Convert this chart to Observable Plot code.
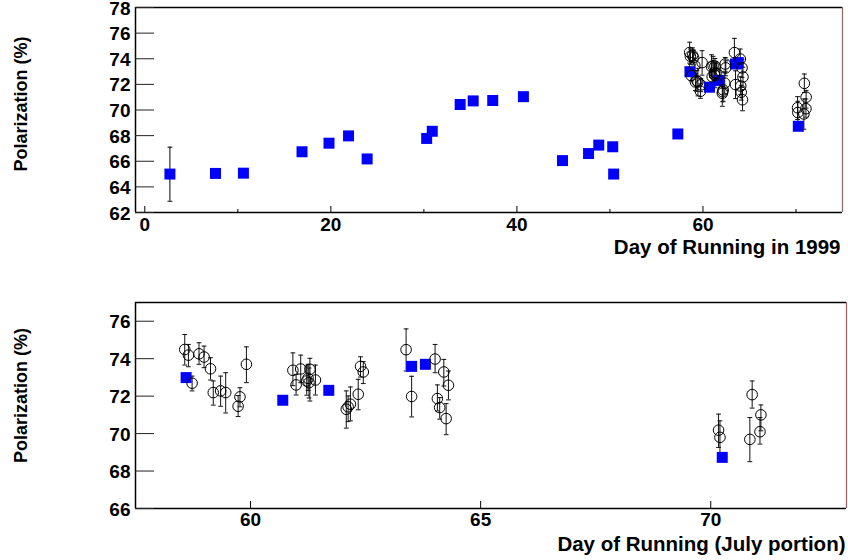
<!DOCTYPE html>
<html><head><meta charset="utf-8">
<script src="https://cdn.jsdelivr.net/npm/d3@7"></script>
<script src="https://cdn.jsdelivr.net/npm/@observablehq/plot@0.6"></script>
<style>
body{margin:0;background:#fff;}
#chart{width:848px;height:560px;position:relative;background:#fff;}
#chart svg{display:block;}
</style></head><body><div id="chart"></div>
<script>
// Blue squares: day of running, polarization (%)
const sqDay = [2.7, 7.6, 10.6, 16.9, 19.8, 21.9, 23.9, 30.3, 30.9, 33.9, 35.3, 37.4, 40.7, 44.9, 47.7, 48.8, 50.3, 50.4, 57.3, 58.6, 60.7, 61.7, 63.5, 63.8, 70.25];
const sqPol = [65.0, 65.05, 65.07, 66.74, 67.41, 67.98, 66.18, 67.78, 68.34, 70.43, 70.71, 70.74, 71.04, 66.05, 66.6, 67.26, 67.13, 65.0, 68.13, 72.99, 71.78, 72.31, 73.59, 73.7, 68.73];
// error bar on the first square
const sqErrDay = [2.7];
const sqErrLo = [62.88];
const sqErrHi = [67.1];
// Open circles (July portion) with error bars
const cDay = [58.57, 58.65, 58.73, 58.88, 58.99, 59.13, 59.19, 59.35, 59.46, 59.77, 59.73, 59.91, 60.92, 60.99, 61.09, 61.22, 61.27, 61.29, 61.25, 61.41, 62.08, 62.12, 62.17, 62.34, 62.39, 62.45, 63.38, 63.50, 64.01, 64.20, 64.30, 64.06, 64.11, 64.25, 70.17, 70.20, 70.90, 71.09, 71.07, 70.85];
const cPol = [74.49, 74.19, 72.69, 74.26, 74.09, 73.46, 72.19, 72.28, 72.19, 71.96, 71.46, 73.70, 73.38, 72.60, 73.45, 72.81, 72.72, 73.43, 72.95, 72.86, 71.30, 71.43, 71.57, 72.10, 73.59, 73.29, 74.48, 71.98, 73.98, 73.29, 72.58, 71.87, 71.39, 70.80, 70.18, 69.80, 72.08, 71.00, 70.10, 69.69];
const cLo  = [73.66, 73.57, 72.28, 73.70, 73.52, 72.86, 71.52, 71.46, 71.10, 71.43, 70.91, 72.72, 72.56, 72.06, 72.72, 72.05, 71.90, 71.74, 72.30, 72.06, 70.29, 70.64, 70.68, 71.27, 73.02, 72.67, 73.34, 70.89, 73.25, 72.54, 71.80, 71.21, 70.77, 69.94, 69.26, 68.91, 71.36, 70.15, 69.44, 68.50];
const cHi  = [75.29, 74.76, 73.07, 74.85, 74.67, 74.05, 72.81, 73.07, 73.25, 72.45, 72.03, 74.63, 74.31, 73.16, 74.19, 73.61, 73.50, 74.02, 73.70, 73.66, 72.28, 72.01, 72.49, 72.90, 74.10, 73.84, 75.59, 73.06, 74.76, 73.96, 73.34, 72.60, 71.92, 71.60, 71.04, 70.68, 72.81, 71.53, 70.86, 70.86];

// Axis tick values and titles
const topYTicks = [62, 64, 66, 68, 70, 72, 74, 76, 78];
const topXLabels = [0, 20, 40, 60];
const topXMinor = [10, 30, 50, 70];
const botYTicks = [66, 68, 70, 72, 74, 76];
const botXLabels = [60, 65, 70];
const yTitle = "Polarization (%)";
const topXTitle = "Day of Running in 1999";
const botXTitle = "Day of Running (July portion)";

const squares = sqDay.map((d, i) => ({day: d, pol: sqPol[i]}));
const sqErr = sqErrDay.map((d, i) => ({day: d, lo: sqErrLo[i], hi: sqErrHi[i]}));
const circles = cDay.map((d, i) => ({day: d, pol: cPol[i], lo: cLo[i], hi: cHi[i]}));

const W = 848;
const FONT = "'Liberation Sans', Arial, Helvetica, sans-serif";
const TICK_FS = 19;
const TITLE_FS = 20.5;
const YTITLE_FS = 18;
const capSymbol = {draw(ctx, size) { const w = Math.sqrt(size / Math.PI); ctx.moveTo(-w, 0); ctx.lineTo(w, 0); }};

function panel(o) {
  const plotW = W - o.ml - o.mr;
  const plotH = o.height - o.mt - o.mb;
  const inRange = d => d.day >= o.xDomain[0] && d.day <= o.xDomain[1];
  const sq = squares.filter(inRange);
  const ci = circles.filter(inRange);
  const se = sqErr.filter(inRange);
  const marks = [
    // frame
    Plot.ruleY([o.yDomain[1]], {stroke: "#000", strokeWidth: 1.3}),
    Plot.ruleY([o.yDomain[0]], {stroke: "#000", strokeWidth: 1.3}),
    Plot.ruleX([o.xDomain[0]], {stroke: "#000", strokeWidth: 1.5}),
    Plot.ruleX([o.xDomain[1]], {stroke: "#8c6c6c", strokeWidth: 1.3}),
    // inward ticks
    Plot.tickY(o.yTicks, {y: d => d, insetRight: plotW - 19, stroke: "#222", strokeWidth: 1}),
    Plot.tickX(o.xMajor, {x: d => d, insetTop: plotH - o.majorLen, stroke: "#000", strokeWidth: 1}),
    Plot.tickX(o.xMinor, {x: d => d, insetTop: plotH - 3, stroke: "#000", strokeWidth: 1}),
    // tick labels
    Plot.axisY(o.yTicks, {anchor: "left", tickSize: 0, tickPadding: 5, dy: 1, label: null, fontSize: TICK_FS, fontWeight: "bold", fill: "#000"}),
    Plot.axisX(o.xMajor, {anchor: "bottom", tickSize: 0, tickPadding: o.xPad, label: null, fontSize: TICK_FS, fontWeight: "bold", fill: "#000"}),
    // error bars
    Plot.ruleX(se, {x: "day", y1: "lo", y2: "hi", stroke: "#000", strokeWidth: 1}),
    Plot.dot(se, {x: "day", y: "lo", symbol: capSymbol, r: 2.4, stroke: "#000", strokeWidth: 1}),
    Plot.dot(se, {x: "day", y: "hi", symbol: capSymbol, r: 2.4, stroke: "#000", strokeWidth: 1}),
    Plot.ruleX(ci, {x: "day", y1: "lo", y2: "hi", stroke: "#111", strokeWidth: 1}),
    Plot.dot(ci, {x: "day", y: "lo", symbol: capSymbol, r: 2.4, stroke: "#111", strokeWidth: 1}),
    Plot.dot(ci, {x: "day", y: "hi", symbol: capSymbol, r: 2.4, stroke: "#111", strokeWidth: 1}),
    // squares
    Plot.dot(sq, {x: "day", y: "pol", symbol: "square", r: 6.2, fill: "#0000ff", stroke: null}),
    // circles
    Plot.dot(ci, {x: "day", y: "pol", r: 5.3, fill: "none", stroke: "#000", strokeWidth: 1}),
    // titles
    Plot.text([o.xTitle], {text: d => d, frameAnchor: "bottom-right", textAnchor: "end", lineAnchor: "middle", dy: o.xTitleDy, dx: o.xTitleDx, fontSize: TITLE_FS, fontWeight: "bold", fill: "#000"}),
    Plot.text([yTitle], {text: d => d, frameAnchor: "left", rotate: -90, textAnchor: "middle", lineAnchor: "middle", dx: -(o.ml - 21), dy: o.yTitleDy, fontSize: YTITLE_FS, fontWeight: "bold", fill: "#000"})
  ];
  return Plot.plot({
    width: W, height: o.height,
    marginTop: o.mt, marginBottom: o.mb, marginLeft: o.ml, marginRight: o.mr,
    style: {fontFamily: FONT, background: "#fff", color: "#000", overflow: "visible"},
    x: {domain: o.xDomain, axis: null},
    y: {domain: o.yDomain, axis: null},
    marks
  });
}

const chart = document.getElementById("chart");
chart.append(panel({
  height: 280, mt: 7, mb: 68, ml: 135, mr: 6,
  xDomain: [-1, 75], yDomain: [62, 78],
  yTicks: topYTicks, xMajor: topXLabels, xMinor: topXMinor, majorLen: 6, xPad: 5,
  xTitle: topXTitle, xTitleDy: 35, xTitleDx: -2, yTitleDy: -6
}));
chart.append(panel({
  height: 280, mt: 22, mb: 52, ml: 135, mr: 2,
  xDomain: [57.5, 72.95], yDomain: [66, 77],
  yTicks: botYTicks, xMajor: botXLabels, xMinor: [], majorLen: 7, xPad: 4,
  xTitle: botXTitle, xTitleDy: 36, xTitleDx: -1, yTitleDy: -10
}));
</script></body></html>
